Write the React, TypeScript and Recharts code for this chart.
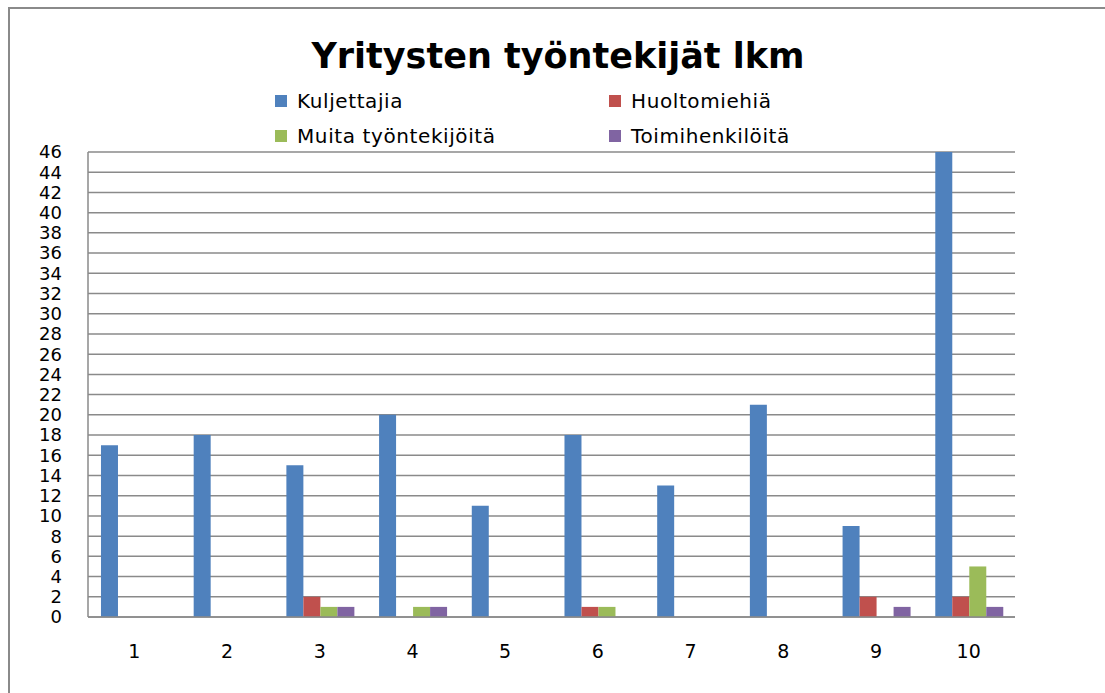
import React from "react";
import { BarChart, Bar, XAxis, YAxis, CartesianGrid } from "recharts";

const categories = ["1", "2", "3", "4", "5", "6", "7", "8", "9", "10"];
const kuljettajia = [17, 18, 15, 20, 11, 18, 13, 21, 9, 46];
const huoltomiehia = [0, 0, 2, 0, 0, 1, 0, 0, 2, 2];
const muita = [0, 0, 1, 1, 0, 1, 0, 0, 0, 5];
const toimihenkiloita = [0, 0, 1, 1, 0, 0, 0, 0, 1, 1];
const yTicks = [0, 2, 4, 6, 8, 10, 12, 14, 16, 18, 20, 22, 24, 26, 28, 30, 32, 34, 36, 38, 40, 42, 44, 46];

const seriesNames = ["Kuljettajia", "Huoltomiehiä", "Muita työntekijöitä", "Toimihenkilöitä"];
const seriesColors = ["#4F81BD", "#C0504D", "#9BBB59", "#8064A2"];
const seriesKeys = ["k", "h", "m", "t"];

const data = categories.map((c, i) => ({
  name: c,
  k: kuljettajia[i],
  h: huoltomiehia[i],
  m: muita[i],
  t: toimihenkiloita[i],
}));

const FONT = "'DejaVu Sans', sans-serif";

const LegendBlock = () => {
  const cols = [275, 609];
  const rows = [101, 136];
  return (
    <>
      {seriesNames.map((name, i) => {
        const x = cols[i % 2];
        const y = rows[Math.floor(i / 2)];
        return (
          <div
            key={i}
            style={{
              position: "absolute",
              left: x,
              top: y - 12,
              height: 24,
              display: "flex",
              alignItems: "center",
              fontFamily: FONT,
              fontSize: 20,
              letterSpacing: 0.6,
              color: "#000",
              whiteSpace: "nowrap",
            }}
          >
            <span style={{ display: "inline-block", width: 12, height: 12, background: seriesColors[i], marginRight: 10 }} />
            <span>{name}</span>
          </div>
        );
      })}
    </>
  );
};

export default function App() {
  return (
    <div style={{ position: "fixed", left: 0, top: 0, width: 1105, height: 693, overflow: "hidden", background: "#fff" }}>
      <div
        style={{
          position: "absolute",
          left: 8,
          top: 7,
          width: 1300,
          height: 900,
          borderTop: "2px solid #8a8a8a",
          borderLeft: "2px solid #8a8a8a",
        }}
      />
      <div
        style={{
          position: "absolute",
          left: 0,
          width: 1105,
          top: 36,
          textAlign: "center",
          fontFamily: FONT,
          fontWeight: "bold",
          fontSize: 35,
          color: "#000",
          paddingLeft: 11,
          boxSizing: "border-box",
        }}
      >
        Yritysten työntekijät lkm
      </div>
      <LegendBlock />
      <div style={{ position: "absolute", left: 0, top: 0 }}>
        <BarChart
          width={1105}
          height={693}
          data={data}
          margin={{ top: 152, right: 90, bottom: 46, left: 28 }}
          barCategoryGap="14%"
          barGap={0}
        >
          <CartesianGrid vertical={false} stroke="#8a8a8a" strokeWidth={1.5} />
          <XAxis
            dataKey="name"
            height={30}
            tickLine={false}
            axisLine={{ stroke: "#8a8a8a", strokeWidth: 1.5 }}
            tickMargin={22}
            tick={{ fontFamily: FONT, fontSize: 19, fill: "#000" }}
            interval={0}
          />
          <YAxis
            width={60}
            domain={[0, 46]}
            ticks={yTicks}
            interval={0}
            tickLine={false}
            axisLine={{ stroke: "#8a8a8a", strokeWidth: 1.5 }}
            tickMargin={20}
            tick={{ fontFamily: FONT, fontSize: 18, fill: "#000" }}
          />
          {seriesKeys.map((k, i) => (
            <Bar key={k} dataKey={k} name={seriesNames[i]} fill={seriesColors[i]} isAnimationActive={false} />
          ))}
        </BarChart>
      </div>
    </div>
  );
}
